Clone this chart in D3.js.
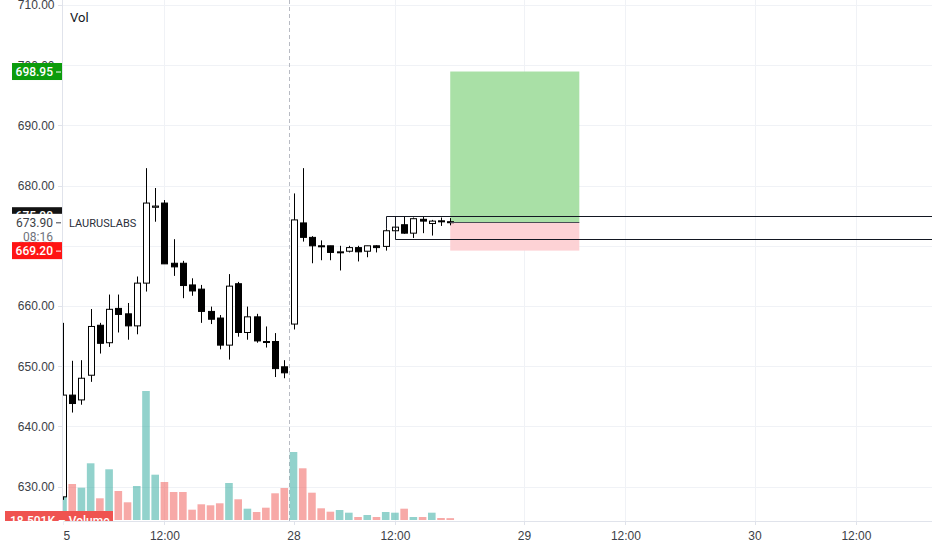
<!DOCTYPE html>
<html>
<meta charset="utf-8">
<title>LAURUSLABS 15m</title>
<style>
body { margin: 0; background: #fff; }
svg { display: block; font-family: Roboto, "Liberation Sans", sans-serif; }
.axis text { font-size: 12px; fill: #3b3e46; }
.axis path, .axis line { stroke: #e0e3eb; shape-rendering: crispEdges; }
.grid line { stroke: #f0f2f6; shape-rendering: crispEdges; }
</style>
<script src="https://d3js.org/d3.v7.min.js"></script>
<body>
<script>
// 15 minute bars, 25 Nov (partly off screen) and 28 Nov
const opens  = [628.3, 645.2, 644.4, 648.5, 656.8, 653.9, 659.6, 658.7, 656.7, 663.8,
                676.4, 677.1, 667.1, 667.1, 663.5, 662.8, 659.1, 658.0, 653.5, 663.7,
                655.6, 658.2, 654.1, 654.1, 649.9, 657.0, 673.8, 671.4, 670.0, 670.0,
                668.9, 669.1, 669.7, 669.1, 670.0, 669.9, 672.5, 673.5, 672.1, 674.4,
                673.7, 674.15, 674.0];
const highs  = [657.2, 650.9, 651.0, 659.5, 657.2, 661.9, 661.9, 660.5, 664.9, 682.9,
                679.6, 677.6, 671.1, 667.5, 664.6, 663.5, 659.9, 658.5, 665.3, 664.0,
                659.9, 658.7, 656.6, 655.5, 651.0, 678.7, 682.9, 671.6, 670.9, 670.0,
                670.0, 670.0, 670.0, 670.0, 670.1, 672.9, 674.8, 674.8, 674.7, 674.8,
                674.3, 674.7, 674.6];
const lows   = [627.8, 642.3, 643.6, 647.4, 652.1, 653.2, 655.6, 654.4, 655.3, 662.4,
                674.0, 667.0, 665.0, 661.3, 661.7, 657.2, 657.0, 652.8, 651.1, 654.9,
                654.4, 653.9, 653.1, 648.2, 648.0, 656.1, 670.7, 667.1, 667.6, 667.6,
                665.9, 668.9, 667.4, 668.1, 668.9, 669.2, 671.1, 672.0, 671.3, 672.1,
                671.7, 673.3, 673.4];
const closes = [645.2, 643.8, 648.0, 656.6, 653.8, 659.45, 658.6, 656.7, 663.8, 677.1,
                676.6, 667.0, 666.5, 663.4, 662.5, 659.1, 657.8, 653.5, 663.3, 655.6,
                658.2, 654.2, 653.95, 649.6, 648.9, 674.3, 671.4, 670.0, 669.9, 668.9,
                669.0, 669.7, 669.0, 670.0, 669.7, 672.5, 673.1, 672.1, 674.5, 674.1,
                674.1, 674.05, 673.9];
// volume in thousands
const volumes = [267, 360, 323, 567, 217, 507, 290, 177, 340, 1290,
                 453, 380, 280, 280, 103, 157, 147, 167, 370, 207,
                 113, 80, 123, 267, 320, 680, 517, 273, 117, 83,
                 100, 73, 30, 50, 30, 80, 73, 113, 30, 30,
                 73, 20, 18.501];

const priceTicks = [630, 640, 650, 660, 670, 680, 690, 700, 710];
const timeTickBars = [0, 11, 25, 36, 50, 61, 75, 86];
const timeTickLabels = ["25", "12:00", "28", "12:00", "29", "12:00", "30", "12:00"];
const sessionBreaks = [24.5];

// long position tool and rectangle drawing
const positionBars = [42, 56];
const targetPrice = 698.95, entryPrice = 673.90, stopPrice = 669.20;
const boxBars = [35, 36];
const boxTop = 675.00, boxBottom = 671.10;

const symbol = "LAURUSLABS";
const lastPrice = closes[closes.length - 1];
const countdown = "08:16";

const W = 932, H = 550, left = 62, bottom = 521;

const x = d3.scaleLinear().domain([0, 94]).range([63, 63 + 94 * 9.22]);
const y = d3.scaleLinear().domain([630, 710]).range([486.6, 5]);
const vy = d3.scaleLinear().domain([0, 5200]).range([520, 0]);

const bars = opens.map((o, i) => ({i: i, o: o, h: highs[i], l: lows[i], c: closes[i], v: volumes[i]}));
const isUp = d => d.c >= d.o;

const svg = d3.select("body").append("svg")
    .attr("width", W)
    .attr("height", H);

svg.append("defs").append("clipPath").attr("id", "plot")
  .append("rect").attr("x", left).attr("y", 0).attr("width", W - left).attr("height", bottom);
svg.select("defs").append("clipPath").attr("id", "xaxis")
  .append("rect").attr("x", left + 1.5).attr("y", bottom).attr("width", W - left).attr("height", H - bottom);
svg.select("defs").append("clipPath").attr("id", "vollabel")
  .append("rect").attr("x", 0).attr("y", 0).attr("width", W).attr("height", bottom);

const plot = svg.append("g").attr("clip-path", "url(#plot)");

// grid
plot.append("g").attr("class", "grid")
  .selectAll("line").data(priceTicks).join("line")
    .attr("x1", left).attr("x2", W)
    .attr("y1", d => Math.round(y(d)) + 0.5).attr("y2", d => Math.round(y(d)) + 0.5);
plot.append("g").attr("class", "grid")
  .selectAll("line").data(timeTickBars.filter(b => b !== 0 && b !== 25)).join("line")
    .attr("x1", d => Math.round(x(d)) + 0.5).attr("x2", d => Math.round(x(d)) + 0.5)
    .attr("y1", 0).attr("y2", bottom);
plot.append("g")
  .selectAll("line").data(sessionBreaks).join("line")
    .attr("x1", d => Math.round(x(d)) + 0.5).attr("x2", d => Math.round(x(d)) + 0.5)
    .attr("y1", 0).attr("y2", bottom)
    .attr("stroke", "#b8bbc3").attr("stroke-dasharray", "4,3");

// volume
plot.append("g")
  .selectAll("rect").data(bars).join("rect")
    .attr("x", d => x(d.i) - 3.8)
    .attr("width", 7.6)
    .attr("y", d => vy(d.v))
    .attr("height", d => vy(0) - vy(d.v))
    .attr("fill", d => isUp(d) ? "rgba(38,166,154,0.5)" : "rgba(239,83,80,0.5)");

// position tool
plot.append("rect")
  .attr("x", x(positionBars[0])).attr("width", x(positionBars[1]) - x(positionBars[0]))
  .attr("y", y(targetPrice)).attr("height", y(entryPrice) - y(targetPrice))
  .attr("fill", "#a9e0a6");
plot.append("rect")
  .attr("x", x(positionBars[0])).attr("width", x(positionBars[1]) - x(positionBars[0]))
  .attr("y", y(entryPrice)).attr("height", y(stopPrice) - y(entryPrice))
  .attr("fill", "#fdd2d5");

// candles
const candles = plot.append("g").selectAll("g").data(bars).join("g");
candles.append("line")
  .attr("x1", d => Math.round(x(d.i)) + 0.5).attr("x2", d => Math.round(x(d.i)) + 0.5)
  .attr("y1", d => y(d.h)).attr("y2", d => y(d.l))
  .attr("stroke", "#000");
candles.append("rect")
  .attr("x", d => Math.round(x(d.i)) - 2.5)
  .attr("width", 6)
  .attr("y", d => y(Math.max(d.o, d.c)))
  .attr("height", d => Math.max(1, Math.abs(y(d.o) - y(d.c))))
  .attr("fill", d => isUp(d) ? "#fff" : "#000")
  .attr("stroke", "#000");

// rectangle drawing
const lines = plot.append("g").attr("stroke", "#131722").attr("fill", "none");
lines.append("path")
  .attr("d", `M${Math.round(x(boxBars[0])) + 0.5},${y(highs[boxBars[0]])}V${Math.round(y(boxTop)) + 0.5}H${W}`);
lines.append("path")
  .attr("d", `M${Math.round(x(boxBars[1])) + 0.5},${Math.round(y(boxTop)) + 0.5}V${Math.round(y(boxBottom)) + 0.5}H${W}`);
lines.append("line")
  .attr("x1", x(positionBars[0])).attr("x2", x(positionBars[1]))
  .attr("y1", Math.round(y(entryPrice)) + 0.5).attr("y2", Math.round(y(entryPrice)) + 0.5)
  .attr("stroke", "#4a4d55");

svg.append("text")
  .attr("x", 70).attr("y", 22)
  .attr("font-size", 13).attr("fill", "#131722")
  .text("Vol");

// axes
svg.append("rect").attr("x", 0).attr("y", 0).attr("width", left).attr("height", H).attr("fill", "#fff");
svg.append("g").attr("class", "axis")
    .attr("transform", `translate(${left + 0.5},0)`)
    .call(d3.axisLeft(y).tickValues(priceTicks).tickFormat(d3.format(".2f")).tickSize(5).tickPadding(3).tickSizeOuter(0))
    .call(g => g.select(".domain").attr("d", `M0,0V${bottom}`));

svg.append("g").attr("class", "axis")
    .attr("clip-path", "url(#xaxis)")
  .append("g")
    .attr("transform", `translate(0,${bottom + 0.5})`)
    .call(d3.axisBottom(x).tickValues(timeTickBars).tickFormat((d, i) => timeTickLabels[i]).tickSize(3).tickPadding(7).tickSizeOuter(0))
    .call(g => g.select(".domain").attr("d", `M${left},0H${W}`));

// price tags on the scale
function tag(value, bg, fg, label) {
  const g = svg.append("g").attr("transform", `translate(0,${y(value)})`);
  g.append("rect").attr("x", 12).attr("y", -8.5).attr("width", 50).attr("height", 17).attr("fill", bg);
  g.append("text").attr("x", 53).attr("y", 4.5).attr("text-anchor", "end")
    .attr("font-size", 12).attr("font-weight", 500).attr("fill", fg).text(label);
  g.append("line").attr("x1", 56).attr("x2", 61).attr("y1", 0.5).attr("y2", 0.5).attr("stroke", fg);
  return g;
}
tag(boxTop, "#131313", "#fff", d3.format(".2f")(boxTop));
tag(targetPrice, "#0c9c0c", "#fff", d3.format(".2f")(targetPrice));

const last = svg.append("g").attr("transform", `translate(0,${y(lastPrice)})`);
last.append("rect").attr("x", 12).attr("y", -8.5).attr("width", 50).attr("height", 28).attr("fill", "#fff");
last.append("text").attr("x", 53).attr("y", 4.5).attr("text-anchor", "end")
  .attr("font-size", 12).attr("fill", "#3b3e46").text(d3.format(".2f")(lastPrice));
last.append("text").attr("x", 53).attr("y", 19).attr("text-anchor", "end")
  .attr("font-size", 12).attr("fill", "#6f727b").text(countdown);
last.append("line").attr("x1", 56).attr("x2", 61).attr("y1", 0.5).attr("y2", 0.5).attr("stroke", "#3b3e46");
last.append("text").attr("x", 69).attr("y", 4.5)
  .attr("font-size", 11).attr("fill", "#2a2e39").text(symbol);

tag(stopPrice, "#ff1414", "#fff", d3.format(".2f")(stopPrice));

// volume value label, cut by the time scale
const vl = svg.append("g").attr("clip-path", "url(#vollabel)");
vl.append("rect").attr("x", 5).attr("y", 511).attr("width", 108).attr("height", 17).attr("fill", "#ef5350");
vl.append("text").attr("x", 10).attr("y", 524.5)
  .attr("font-size", 12).attr("font-weight", 500).attr("fill", "#fff")
  .text(`${d3.format(".3f")(volumes[volumes.length - 1])}K \u2013 Volume`);
</script>
</body>
</html>
